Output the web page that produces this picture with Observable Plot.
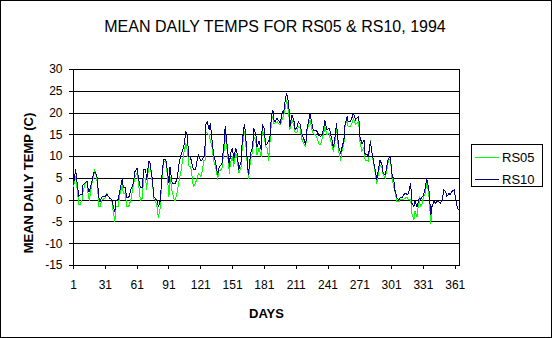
<!DOCTYPE html>
<html><head><meta charset="utf-8">
<script src="https://cdn.jsdelivr.net/npm/d3@7"></script>
<script src="https://cdn.jsdelivr.net/npm/@observablehq/plot@0.6"></script>
<style>
html,body{margin:0;padding:0;background:#fff;}
#chart{position:relative;width:552px;height:338px;overflow:hidden;font-family:"Liberation Sans",Arial,sans-serif;color:#000;}
#chart svg{position:absolute;left:0;top:0;}
#border{position:absolute;left:0;top:0;width:552px;height:338px;box-sizing:border-box;border:1px solid #000;pointer-events:none;}
.t{position:absolute;white-space:nowrap;color:#000;}
</style></head><body>
<div id="chart"></div>
<script>
const title = "MEAN DAILY TEMPS FOR RS05 & RS10, 1994";
const xLabel = "DAYS";
const yLabel = "MEAN DAILY TEMP (C)";
const seriesNames = ["RS05", "RS10"];
const seriesColors = ["#00ff00", "#000080"];
const xTicks = [1, 31, 61, 91, 121, 151, 181, 211, 241, 271, 301, 331, 361];
const yTicks = [-15, -10, -5, 0, 5, 10, 15, 20, 25, 30];

const days = [1,3,5,6,7,9,10,12,14,15,
16,18,20,21,23,25,26,28,31,32,
33,35,37,38,40,41,43,45,47,48,
50,51,53,55,57,59,61,62,64,66,
67,69,70,72,73,75,77,78,80,81,
83,84,86,88,89,91,92,94,96,97,
99,100,102,105,107,108,110,111,112,114,
116,118,119,121,122,124,125,126,127,129,
130,132,133,135,137,138,140,141,143,144,
146,148,149,151,152,154,155,157,159,160,
162,163,165,166,168,170,171,173,174,176,
178,179,181,182,184,185,186,187,188,189,
190,191,193,194,196,198,199,201,202,204,
205,207,209,210,212,213,215,216,218,220,
221,223,224,226,227,229,231,232,234,235,
237,238,240,242,243,245,246,248,249,251,
253,254,256,257,259,260,262,264,265,267,
268,270,271,273,275,276,278,279,281,282,
284,286,287,289,290,292,293,295,297,298,
300,301,303,304,306,308,309,311,312,314,
316,317,319,320,322,323,325,327,328,330,
331,333,334,336,338,339,341,342,344,345,
347,349,350,352,353,355,356,358,360,361,
363,364,365];

const rs10 = [3.5,7,2.8,0.8,1.2,1.2,3.5,4,4.3,2,
2,3.9,6.4,6.4,5.8,0.5,-0.3,0.8,0.8,1.2,
1.2,0.5,0.1,-1,-2.6,0,0.1,2.4,5,2.8,
2.8,0.5,0.5,2.4,3.5,6.6,7.3,5.4,2.8,2.8,
7,7,4.7,8.9,8.9,5.4,0.5,0.5,-0.3,-1.5,
0,4.7,9.4,9.4,7.7,3.9,7.7,3.9,3.9,3.9,
5,7.7,10,12.3,15.7,15,10,10,9.2,7,
7,9.6,10.4,9,9.2,10,12.3,17.7,18,16.1,
17.7,13,10.8,8.5,5.8,7.3,8.1,8.5,13,16.9,
12.3,7.7,10.8,11.9,9.2,11.9,11.2,7,8.9,13,
17.3,16.1,8.5,5.8,10.8,12.3,16.5,15,12.3,13.5,
11.5,17.3,16.5,12.7,13,13.8,13.5,17.3,19.6,20.7,
18.4,18,18.8,18.4,17.7,20.3,19.9,23.4,24.5,22.2,
16.9,19.6,18,16.1,16.9,18,17.3,15.4,14.2,12.7,
16.1,18.4,20,17.3,16.1,16.1,15.7,15,14.6,15,
16.5,18.4,16.1,16.5,15.7,13.5,12,15,17.7,12.3,
10.8,11.9,13.8,17.3,19.2,18,18,19.2,20,18.4,
18.8,19.2,14.6,13,13.8,10.4,10.4,10,13.5,11.5,
8.9,6.2,4.7,7.7,9.2,8.1,6.2,5.8,8.5,9.6,
10,6.2,4.7,2.4,0.5,0.1,0.5,0.5,1.2,1.6,
1.2,1.6,3.9,-0.7,-1.5,-0.3,-1.5,0.5,0.1,0.8,
1.2,3.1,5,2.8,-3.4,-1.5,-0.3,-0.7,-0.3,-0.3,
-0.7,0.1,2.4,2,0.8,1.6,1.2,2,2.4,0.8,
-1.8,-2.2,-2];

const rs05 = [3.1,5.4,1.5,-1.1,-1.1,0,2,3.9,4.3,0.5,
0,3.5,5.4,7,5,-1.5,-1.5,0.1,0.5,1.6,
1.2,0.5,0.1,-1.8,-4.9,-1.5,-1.5,1.6,3.5,1.6,
1.6,-1.5,-1.5,0,2.8,5.4,6.2,4.7,0,0.5,
5,5,2.4,8.5,8.5,4.7,0.1,0.1,-1.8,-4.1,
-1.5,3.9,8.9,8.9,7,0.8,5.4,2,0,0,
2,3.9,6.2,10.8,13,11.9,7.7,7.7,7,3.1,
3.9,5.4,6.2,5.5,6.2,9.2,9.2,15.7,15.4,15,
13.8,11.9,9.2,7.7,4.7,6.6,7,7.3,11.5,15,
11.2,6.2,8.5,10,7.7,10.8,10,6.2,7.7,11.5,
15.7,14.6,7.7,5,9.2,11.2,14.6,13.5,10.4,11.9,
10,16.1,15,12.3,11.9,9.2,12,16.1,18.4,19.2,
17.5,17.7,18,17.7,17.3,18.8,19.2,21.5,23,19.9,
16.1,18.4,16.9,15.4,15.7,16.9,16.5,14.2,13,12.3,
15.7,17.7,18.4,16.1,15.4,15,14.2,13,12.7,13.8,
15.4,16.9,15,15.4,14.2,12.3,11.2,14.2,16.9,11.2,
9.2,11.2,13,16.9,18.4,16.9,16.9,18,18.8,17.3,
17.7,18,13.5,11.2,12.3,9.2,9.2,8.9,13.8,11.5,
8.5,5.4,3.9,6.9,8.1,7.3,5.8,5,7.7,9.2,
9.6,5.4,3.1,2,-0.3,-0.3,0.1,0.1,0.1,0.5,
0.5,0.1,0.1,-3,-4.5,-2.6,-3.8,0.8,-1.5,-0.7,
0.8,1.6,4.3,1.6,-5.3,-1.9];

const rows05 = rs05.map((v, i) => ({day: days[i], temp: v}));
const rows10 = rs10.map((v, i) => ({day: days[i], temp: v}));

const chart = document.getElementById("chart");

const plot = Plot.plot({
  width: 552,
  height: 338,
  marginLeft: 73,
  marginRight: 93,
  marginTop: 69,
  marginBottom: 73,
  style: {fontFamily: "'Liberation Sans', Arial, sans-serif", fontSize: "12px", color: "#000", background: "transparent", overflow: "visible"},
  x: {domain: [1, 365], label: null},
  y: {domain: [-15, 30], label: null},
  marks: [
    Plot.ruleY(yTicks, {stroke: "#000", strokeWidth: 1, shapeRendering: "crispEdges"}),
    Plot.frame({stroke: "#000", strokeWidth: 1, shapeRendering: "crispEdges"}),
    Plot.line(rows05, {x: "day", y: "temp", stroke: seriesColors[0], strokeWidth: 1, shapeRendering: "crispEdges"}),
    Plot.line(rows10, {x: "day", y: "temp", stroke: seriesColors[1], strokeWidth: 1, shapeRendering: "crispEdges"}),
    Plot.axisX({ticks: xTicks, tickSize: 4, tickPadding: 11, tickFormat: d => String(d), label: null, stroke: "#000", shapeRendering: "crispEdges"}),
    Plot.axisY({ticks: yTicks, tickSize: 4, tickPadding: 7, tickFormat: d => String(d), label: null, stroke: "#000", shapeRendering: "crispEdges"})
  ]
});
chart.appendChild(plot);

function addText(txt, css) {
  const d = document.createElement("div");
  d.className = "t";
  d.textContent = txt;
  Object.assign(d.style, css);
  chart.appendChild(d);
  return d;
}

addText(title, {left: "275px", top: "18.7px", fontSize: "16px", lineHeight: "16px", transform: "translateX(-50%)"});
addText(xLabel, {left: "266.5px", top: "306.6px", fontSize: "13px", lineHeight: "13px", fontWeight: "bold", transform: "translateX(-50%)"});
addText(yLabel, {left: "28.3px", top: "183px", fontSize: "13px", lineHeight: "13px", fontWeight: "bold", transform: "translate(-50%,-50%) rotate(-90deg)"});

// legend
const box = document.createElement("div");
Object.assign(box.style, {position: "absolute", left: "471px", top: "144px", width: "72px", height: "43px", boxSizing: "border-box", border: "1px solid #000", background: "#fff"});
chart.appendChild(box);
const legendY = [157, 179];
seriesNames.forEach((name, i) => {
  const ln = document.createElement("div");
  Object.assign(ln.style, {position: "absolute", left: "475px", top: (legendY[i] - 0.5) + "px", width: "24px", height: "0", borderTop: "1px solid " + seriesColors[i]});
  chart.appendChild(ln);
  addText(name, {left: "502px", top: (legendY[i] - 0.4885 * 13) + "px", fontSize: "13px", lineHeight: "13px"});
});

const border = document.createElement("div");
border.id = "border";
chart.appendChild(border);
</script>
</body></html>
